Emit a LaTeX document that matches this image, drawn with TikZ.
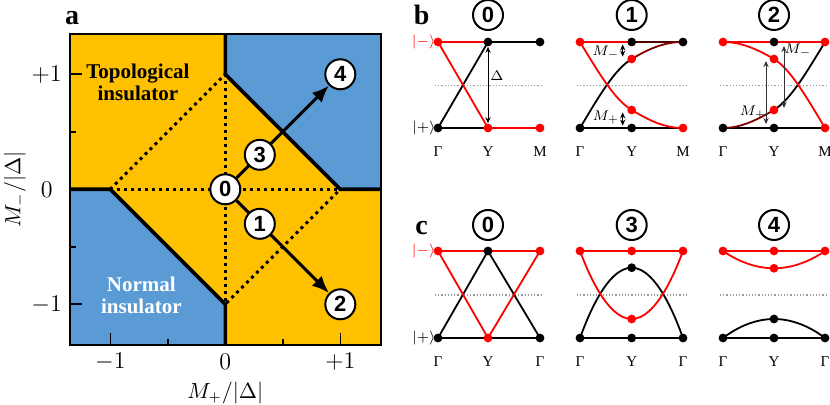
\documentclass[tikz,border=0pt]{standalone}
\usepackage{fontspec}
\setmainfont{Liberation Serif}
\newfontfamily\numfont{Liberation Sans}
\usepackage{amsmath}
\usetikzlibrary{arrows.meta,calc}

\definecolor{topoyellow}{RGB}{255,192,0}
\definecolor{normblue}{RGB}{91,155,213}

\tikzset{
  numcirc/.style={circle, draw, line width=1pt, minimum size=15pt, inner sep=0pt,
    font=\numfont\bfseries\fontsize{11}{11}\selectfont},
  panel/.style={anchor=base, font=\bfseries\fontsize{14}{14}\selectfont},
  phase/.style={line width=1.8pt},
  dotline/.style={line width=1.5pt, dash pattern=on 1.5pt off 2pt},
  flow/.style={line width=1.5pt, -{Latex[length=8.5pt,width=7pt]}},
  ticklab/.style={font=\fontsize{11.5}{12}\selectfont},
  axlab/.style={inner sep=0pt, font=\fontsize{10.5}{11}\selectfont},
  band/.style={line width=0.9pt},
  midline/.style={gray!80, line width=0.6pt, dash pattern=on 0.6pt off 1pt},
  gap/.style={{Stealth[length=3pt,width=2.6pt]}-{Stealth[length=3pt,width=2.6pt]}, line width=0.5pt},
  klab/.style={anchor=base, font=\fontsize{7.5}{8}\selectfont},
  small/.style={font=\fontsize{7.5}{8}\selectfont},
}

\begin{document}
\begin{tikzpicture}[x=0.5pt, y=-0.5pt]
  \useasboundingbox (0,0) rectangle (830,405);

  % ---------- a: phase diagram ----------
  \node[panel] (la) at (72,25) {a};
  \begin{scope}[shift={(225.3,189.3)}, x=57.5pt, y=57.5pt]
    \fill[topoyellow] (-1.35,-1.35) rectangle (1.35,1.35);
    \fill[normblue] (0,1.35) -- (0,1) -- (1,0) -- (1.35,0) -- (1.35,1.35) -- cycle;
    \fill[normblue] (-1.35,0) -- (-1,0) -- (0,-1) -- (0,-1.35) -- (-1.35,-1.35) -- cycle;

    % ticks (inside)
    \foreach \t in {-1,0,1} {
      \draw[line width=0.8pt] (\t,-1.35) -- ++(0,0.1);
      \draw[line width=0.8pt] (-1.35,\t) -- ++(0.1,0);
    }
    \foreach \t in {-0.5,0.5} {
      \draw[line width=0.8pt] (\t,-1.35) -- ++(0,0.05);
      \draw[line width=0.8pt] (-1.35,\t) -- ++(0.05,0);
    }

    % phase boundaries
    \draw[phase] (0,1.35) -- (0,1) -- (1,0) -- (1.35,0);
    \draw[phase] (-1.35,0) -- (-1,0) -- (0,-1) -- (0,-1.35);
    \draw[line width=1pt] (-1.35,-1.35) rectangle (1.35,1.35);

    % dotted diamond
    \draw[dotline] (-1,0) -- (0,1) -- (1,0) -- (0,-1) -- cycle;
    \draw[dotline] (-1,0) -- (1,0);
    \draw[dotline] (0,1) -- (0,-1);

    % tick labels
    \node[ticklab] (yl1) at (-1.553,1) {$+1$};
    \node[ticklab] (yl0) at (-1.553,0) {$0$};
    \node[ticklab] (yl2) at (-1.553,-1) {$-1$};
    \node[ticklab] (xl2) at (-1,-1.5) {$-1$};
    \node[ticklab] (xl0) at (0,-1.5) {$0$};
    \node[ticklab] (xl1) at (1,-1.5) {$+1$};
    \node[axlab] (xlab) at (0,-1.77) {$M_{+}/|\Delta|$};
    \node[axlab, rotate=90] (ylab) at (-1.83,0) {$M_{-}/|\Delta|$};

    \node[align=center, font=\bfseries\fontsize{10.5}{11}\selectfont] (ti) at (-0.76,0.93) {Topological\\insulator};
    \node[align=center, white, font=\bfseries\fontsize{10.5}{11}\selectfont] (ni) at (-0.73,-0.92) {Normal\\insulator};

    % paths in parameter space
    \node[numcirc, fill=white] (n0) at (0,0) {0};
    \node[numcirc, fill=white] (n2) at (1,-1) {2};
    \node[numcirc, fill=white] (n4) at (1,1) {4};
    \draw[flow] (n0) -- (n2);
    \draw[flow] (n0) -- (n4);
    \node[numcirc, fill=white] (n1) at (0.3,-0.3) {1};
    \node[numcirc, fill=white] (n3) at (0.3,0.3) {3};
  \end{scope}

  % ---------- b: bands along Gamma-Y-M ----------
  \node[panel] (lb) at (421.7,25) {b};
  \node[numcirc] (b0) at (488,15) {0};
  \node[numcirc] (b1) at (631.7,15) {1};
  \node[numcirc] (b2) at (774,15) {2};

  % case 0
  \coordinate (b0Gt) at (438,42);  \coordinate (b0Gb) at (438,128);
  \coordinate (b0Yt) at (488,42);  \coordinate (b0Yb) at (488,128);
  \coordinate (b0Mt) at (540,42);  \coordinate (b0Mb) at (540,128);
  \draw[midline] (435,85.5) -- (543,85.5);
  \draw[band, red] (b0Gt) -- (b0Mt);
  \draw[band] (b0Gb) -- (b0Mb);
  \draw[band] (b0Gb) -- (b0Yt) -- (b0Mt);
  \draw[band, red] (b0Gt) -- (b0Yb) -- (b0Mb);
  \foreach \p in {b0Gt,b0Yb,b0Mb} \fill[red] (\p) circle (2.2pt);
  \foreach \p in {b0Gb,b0Yt,b0Mt} \fill (\p) circle (2.2pt);
  \draw[gap, shorten <=2.4pt, shorten >=2.4pt] (b0Yt) -- (b0Yb);
  \node[small] (delta) at (497,76) {$\Delta$};
  \node[small, red, anchor=east, inner sep=1pt] (km) at (b0Gt) {$|{-}\rangle$};
  \node[small, anchor=east, inner sep=1pt] (kp) at (b0Gb) {$|{+}\rangle$};

  % case 1
  \coordinate (b1Gt) at (580,42);    \coordinate (b1Gb) at (580,128);
  \coordinate (b1Yt) at (631.7,42);  \coordinate (b1Yb) at (631.7,128);
  \coordinate (b1Yu) at (631.7,59);  \coordinate (b1Yl) at (631.7,110);
  \coordinate (b1Mt) at (683,42);    \coordinate (b1Mb) at (683,128);
  \draw[midline] (577,85.5) -- (686,85.5);
  \draw[band, red] (b1Gt) -- (b1Yt);
  \draw[band, red!30!black] (b1Yt) -- (b1Mt);
  \draw[band] (b1Gb) -- (b1Mb);
  \draw[band] (b1Gb) .. controls (600,94.4) and (615,69) .. (b1Yu);
  \draw[band, red!50!black] (b1Yu) .. controls (650,48) and (665,42) .. (b1Mt);
  \draw[band, red] (b1Gt) .. controls (600,75) and (615,100) .. (b1Yl)
    .. controls (650,121) and (665,128) .. (b1Mb);
  \foreach \p in {b1Gt,b1Yu,b1Yl,b1Mb} \fill[red] (\p) circle (2.2pt);
  \foreach \p in {b1Gb,b1Yt,b1Yb,b1Mt} \fill (\p) circle (2.2pt);
  \coordinate (b1a) at (622.7,42);  \coordinate (b1b) at (622.7,59);
  \coordinate (b1c) at (622.7,110); \coordinate (b1d) at (622.7,128);
  \draw[gap, shorten <=1.2pt, shorten >=1.2pt] (b1a) -- (b1b);
  \draw[gap, shorten <=1.2pt, shorten >=1.2pt] (b1c) -- (b1d);
  \node[small] (b1m) at (606,53) {$M_{-}$};
  \node[small] (b1p) at (606,118) {$M_{+}$};

  % case 2
  \coordinate (b2Gt) at (723,42);  \coordinate (b2Gb) at (723,128);
  \coordinate (b2Yt) at (774,42);  \coordinate (b2Yb) at (774,128);
  \coordinate (b2Yu) at (774,59);  \coordinate (b2Yl) at (774,110);
  \coordinate (b2Mt) at (825,42);  \coordinate (b2Mb) at (825,128);
  \draw[midline] (720,85.5) -- (828,85.5);
  \draw[band, red] (b2Gt) -- (b2Mt);
  \draw[band] (b2Gb) -- (b2Mb);
  \draw[band, red!50!black] (b2Gb) .. controls (740,128) and (755,121) .. (b2Yl);
  \draw[band] (b2Yl) .. controls (790,100) and (805,75) .. (b2Mt);
  \draw[band, red] (b2Gt) .. controls (740,42) and (755,48) .. (b2Yu)
    .. controls (790,69) and (805,94.4) .. (b2Mb);
  \foreach \p in {b2Gt,b2Yu,b2Yl,b2Mt,b2Mb} \fill[red] (\p) circle (2.2pt);
  \foreach \p in {b2Gb,b2Yt,b2Yb} \fill (\p) circle (2.2pt);
  \coordinate (b2a) at (766,59);  \coordinate (b2b) at (766,128);
  \coordinate (b2c) at (784,42);  \coordinate (b2d) at (784,110);
  \draw[gap, black!80, shorten <=1pt, shorten >=2pt] (b2a) -- (b2b);
  \draw[gap, black!80, shorten <=2pt, shorten >=1pt] (b2c) -- (b2d);
  \node[small] (b2p) at (753,113) {$M_{+}$};
  \node[small] (b2m) at (798,51) {$M_{-}$};

  % k labels
  \foreach \x/\k [count=\i] in {438/Γ,488/Y,540/M,580/Γ,631.7/Y,683/M,723/Γ,774/Y,825/M}
    \node[klab] (kb\i) at (\x,157) {\k};

  % ---------- c: bands along Gamma-Y-Gamma ----------
  \node[panel] (lc) at (421.7,235) {c};
  \node[numcirc] (c0) at (488,225) {0};
  \node[numcirc] (c3) at (631.7,225) {3};
  \node[numcirc] (c4) at (774,225) {4};

  % case 0
  \coordinate (c0Gt) at (438,251);  \coordinate (c0Gb) at (438,338);
  \coordinate (c0Yt) at (488,251);  \coordinate (c0Yb) at (488,338);
  \coordinate (c0Ht) at (540,251);  \coordinate (c0Hb) at (540,338);
  \draw[midline] (435,295) -- (543,295);
  \draw[band, red] (c0Gt) -- (c0Ht);
  \draw[band] (c0Gb) -- (c0Hb);
  \draw[band] (c0Gb) -- (c0Yt) -- (c0Hb);
  \draw[band, red] (c0Gt) -- (c0Yb) -- (c0Ht);
  \foreach \p in {c0Gt,c0Yb,c0Ht} \fill[red] (\p) circle (2.2pt);
  \foreach \p in {c0Gb,c0Yt,c0Hb} \fill (\p) circle (2.2pt);
  \node[small, red, anchor=east, inner sep=1pt] (km2) at (c0Gt) {$|{-}\rangle$};
  \node[small, anchor=east, inner sep=1pt] (kp2) at (c0Gb) {$|{+}\rangle$};

  % case 3
  \coordinate (c3Gt) at (580,251);    \coordinate (c3Gb) at (580,338);
  \coordinate (c3Yt) at (631.7,251);  \coordinate (c3Yb) at (631.7,338);
  \coordinate (c3Yr) at (631.7,319);  \coordinate (c3Yk) at (631.7,267.7);
  \coordinate (c3Ht) at (683,251);    \coordinate (c3Hb) at (683,338);
  \draw[midline] (577,295) -- (686,295);
  \draw[band, red] (c3Gt) -- (c3Ht);
  \draw[band] (c3Gb) -- (c3Hb);
  \draw[band] (c3Gb) parabola bend (c3Yk) (c3Hb);
  \draw[band, red] (c3Gt) parabola bend (c3Yr) (c3Ht);
  \foreach \p in {c3Gt,c3Yt,c3Ht,c3Yr} \fill[red] (\p) circle (2.2pt);
  \foreach \p in {c3Gb,c3Yb,c3Hb,c3Yk} \fill (\p) circle (2.2pt);

  % case 4
  \coordinate (c4Gt) at (723,251);  \coordinate (c4Gb) at (723,338);
  \coordinate (c4Yt) at (774,251);  \coordinate (c4Yb) at (774,338);
  \coordinate (c4Yr) at (774,268.3);\coordinate (c4Yk) at (774,319);
  \coordinate (c4Ht) at (825,251);  \coordinate (c4Hb) at (825,338);
  \draw[midline] (720,295) -- (828,295);
  \draw[band, red] (c4Gt) -- (c4Ht);
  \draw[band] (c4Gb) -- (c4Hb);
  \draw[band] (c4Gb) parabola bend (c4Yk) (c4Hb);
  \draw[band, red] (c4Gt) parabola bend (c4Yr) (c4Ht);
  \foreach \p in {c4Gt,c4Yt,c4Ht,c4Yr} \fill[red] (\p) circle (2.2pt);
  \foreach \p in {c4Gb,c4Yb,c4Hb,c4Yk} \fill (\p) circle (2.2pt);

  % k labels
  \foreach \x/\k [count=\i] in {438/Γ,488/Y,540/Γ,580/Γ,631.7/Y,683/Γ,723/Γ,774/Y,825/Γ}
    \node[klab] (kc\i) at (\x,367) {\k};
\end{tikzpicture}
\end{document}
